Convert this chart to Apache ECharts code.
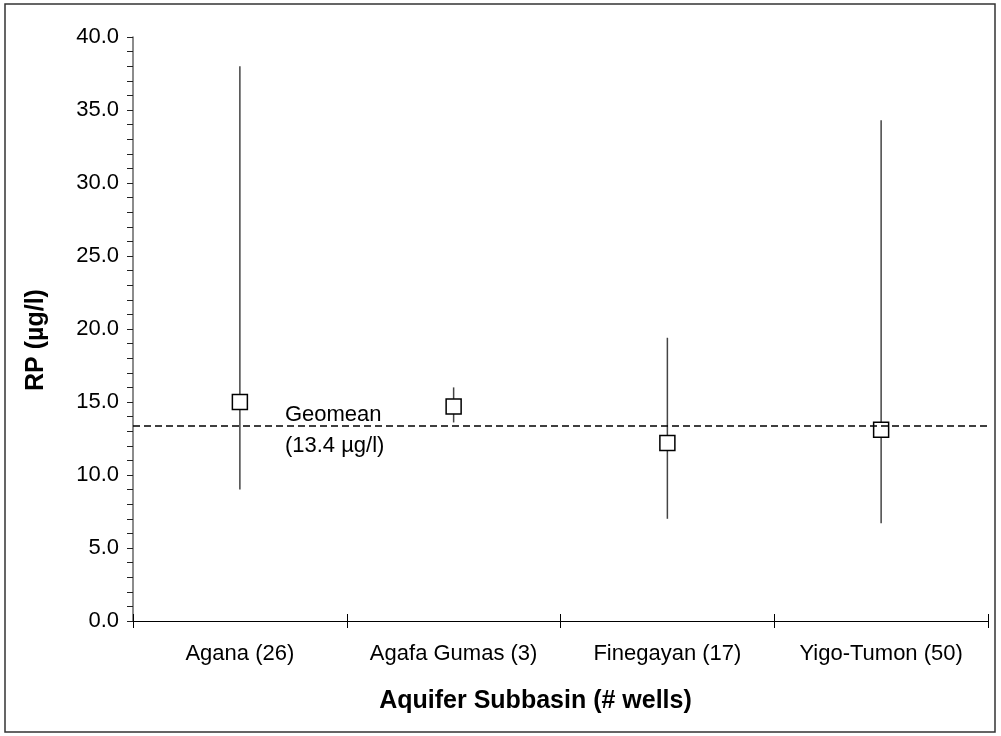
<!DOCTYPE html>
<html>
<head>
<meta charset="utf-8">
<script src="https://cdn.jsdelivr.net/npm/echarts@6/dist/echarts.min.js"></script>
<style>
  html, body { margin: 0; padding: 0; background: #fff; }
  #chart { width: 1001px; height: 736px; }
</style>
</head>
<body>
<div id="chart"></div>
<script>
// 数据
const subbasins = ["Agana (26)", "Agafa Gumas (3)", "Finegayan (17)", "Yigo-Tumon (50)"];
const rpMean = [15.0, 14.7, 12.2, 13.1];
const rpLow = [9.0, 13.6, 7.0, 6.7];
const rpHigh = [38.0, 16.0, 19.4, 34.3];
const geomean = 13.4;
const geomeanLabel = ["Geomean", "(13.4 µg/l)"];

const FONT = "Arial, 'Liberation Sans', sans-serif";

const chart = echarts.init(document.getElementById("chart"));

const option = {
    animation: false,
    backgroundColor: "#fff",
    textStyle: { fontFamily: FONT },
    grid: { left: 133, right: 13, top: 37, bottom: 115 },
    xAxis: [
        {
            type: "category",
            data: subbasins,
            boundaryGap: true,
            axisLine: { lineStyle: { color: "#000", width: 1 } },
            axisTick: { show: true, length: 7, lineStyle: { color: "#000" } },
            axisLabel: { color: "#000", fontSize: 22, margin: 22, interval: 0, fontFamily: FONT },
            name: "Aquifer Subbasin (# wells)",
            nameLocation: "middle",
            nameGap: 68,
            nameTextStyle: {
                color: "#000", fontSize: 25, fontWeight: "bold", fontFamily: FONT,
                padding: [0, 50, 0, 0] // 往左偏一点
            },
            splitLine: { show: false }
        },
        {
            // 内侧刻度（十字形刻度）
            type: "category",
            data: subbasins,
            position: "bottom",
            boundaryGap: true,
            axisLine: { show: false },
            axisTick: { show: true, inside: true, length: 7, lineStyle: { color: "#000" } },
            axisLabel: { show: false },
            splitLine: { show: false }
        }
    ],
    yAxis: {
        type: "value",
        min: 0,
        max: 40,
        interval: 5,
        axisLine: { show: true, lineStyle: { color: "#666", width: 1.5 } },
        axisTick: { show: true, length: 6, lineStyle: { color: "#222" } },
        minorTick: { show: true, splitNumber: 5, length: 6, lineStyle: { color: "#222" } },
        axisLabel: {
            color: "#000", fontSize: 22, margin: 14, fontFamily: FONT,
            formatter: (v) => v.toFixed(1)
        },
        splitLine: { show: false },
        name: "RP (µg/l)",
        nameLocation: "middle",
        nameRotate: 90,
        nameGap: 84,
        nameTextStyle: {
            color: "#000", fontSize: 25, fontWeight: "bold", fontFamily: FONT,
            padding: [0, 22, 0, 0]
        }
    },
    series: [
        {
            // 范围竖线
            type: "custom",
            xAxisIndex: 0,
            z: 2,
            data: subbasins.map((_, i) => [i, rpLow[i], rpHigh[i]]),
            renderItem: (params, api) => {
                const p1 = api.coord([api.value(0), api.value(1)]);
                const p2 = api.coord([api.value(0), api.value(2)]);
                return {
                    type: "line",
                    shape: { x1: p1[0], y1: p1[1], x2: p2[0], y2: p2[1] },
                    style: { stroke: "#444", lineWidth: 1.5 }
                };
            }
        },
        {
            type: "scatter",
            xAxisIndex: 0,
            z: 4,
            symbol: "rect",
            symbolSize: 15,
            data: subbasins.map((_, i) => [i, rpMean[i]]),
            itemStyle: { color: "#fff", borderColor: "#000", borderWidth: 1.5, opacity: 1 },
            markLine: {
                silent: true,
                symbol: "none",
                label: { show: false },
                lineStyle: { color: "#000", type: [7, 4], width: 1.5 },
                data: [{ yAxis: geomean }]
            }
        }
    ]
};

chart.setOption(option);

// 注释文字与外框
const anchor = chart.convertToPixel({ xAxisIndex: 0, yAxisIndex: 0 }, [0, geomean]);
chart.setOption({
    graphic: [
        {
            type: "rect",
            shape: { x: 5, y: 4, width: 990, height: 728 },
            style: { fill: "none", stroke: "#333", lineWidth: 1.5 },
            silent: true
        },
        {
            type: "text",
            x: anchor[0] + 45,
            y: anchor[1] + 1,
            style: { text: geomeanLabel[0], font: "22px " + FONT, fill: "#000", textVerticalAlign: "bottom" }
        },
        {
            type: "text",
            x: anchor[0] + 45,
            y: anchor[1] + 10,
            style: { text: geomeanLabel[1], font: "22px " + FONT, fill: "#000", textVerticalAlign: "top" }
        }
    ]
});
</script>
</body>
</html>
